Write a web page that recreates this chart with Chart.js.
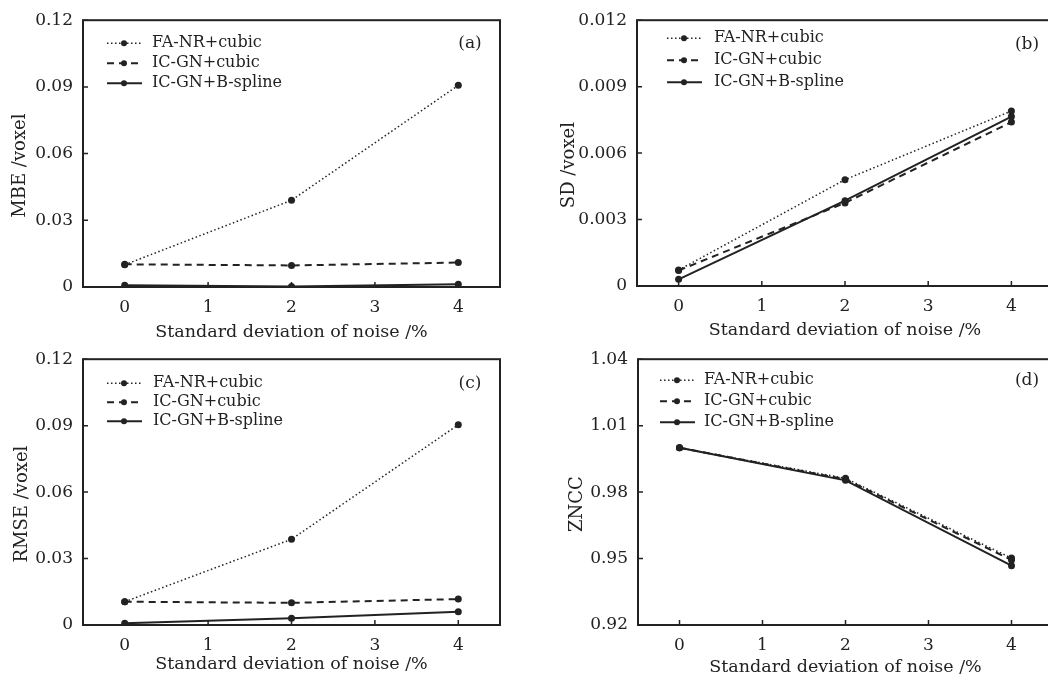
<!DOCTYPE html>
<html>
<head>
<meta charset="utf-8">
<script src="https://cdn.jsdelivr.net/npm/chart.js@4.4.1/dist/chart.umd.min.js"></script>
<style>
  html, body { margin: 0; padding: 0; background: #fff; overflow: hidden; width: 1048px; height: 678px; position: relative; }
  canvas { position: absolute; }
</style>
</head>
<body>
<canvas id="chartA" width="524" height="345" style="left:0;top:0"></canvas>
<canvas id="chartB" width="560" height="345" style="left:524px;top:0"></canvas>
<canvas id="chartC" width="524" height="339" style="left:0;top:339px"></canvas>
<canvas id="chartD" width="560" height="339" style="left:524px;top:339px"></canvas>
<script>
// noise levels (x) and x-axis ticks
const noiseLevels = [0, 2, 4];
const xTicks = [0, 1, 2, 3, 4];
const seriesNames = ["FA-NR+cubic", "IC-GN+cubic", "IC-GN+B-spline"];

// (a) MBE
const mbeFaNr = [0.0100, 0.0390, 0.0907];
const mbeIcCubic = [0.0102, 0.0097, 0.0110];
const mbeIcBspline = [0.0008, 0.0002, 0.0012];
const yTicksMbe = [0, 0.03, 0.06, 0.09, 0.12];
const yLabelsMbe = ["0", "0.03", "0.06", "0.09", "0.12"];

// (b) SD
const sdFaNr = [0.00072, 0.00480, 0.00790];
const sdIcCubic = [0.00070, 0.00375, 0.00740];
const sdIcBspline = [0.00030, 0.00385, 0.00765];
const yTicksSd = [0, 0.003, 0.006, 0.009, 0.012];
const yLabelsSd = ["0", "0.003", "0.006", "0.009", "0.012"];

// (c) RMSE
const rmseFaNr = [0.0105, 0.0387, 0.0904];
const rmseIcCubic = [0.0105, 0.0100, 0.0117];
const rmseIcBspline = [0.0008, 0.0030, 0.0060];
const yTicksRmse = [0, 0.03, 0.06, 0.09, 0.12];
const yLabelsRmse = ["0", "0.03", "0.06", "0.09", "0.12"];

// (d) ZNCC
const znccFaNr = [1.0000, 0.9862, 0.9502];
const znccIcCubic = [1.0000, 0.9858, 0.9494];
const znccIcBspline = [1.0000, 0.9853, 0.9468];
const yTicksZncc = [0.92, 0.95, 0.98, 1.01, 1.04];
const yLabelsZncc = ["0.92", "0.95", "0.98", "1.01", "1.04"];

const INK = "#222222";
const FONT = "'DejaVu Serif', 'Liberation Serif', serif";
const lineStyles = [
    { dash: [1.5, 2.5], width: 1.5 },
    { dash: [7, 5], width: 2 },
    { dash: [], width: 2 }
];

// box round the plot area with short inward ticks
const frame = {
    id: "frame",
    afterDraw(chart) {
        const { ctx, chartArea: a, scales } = chart;
        ctx.save();
        ctx.strokeStyle = INK;
        ctx.lineWidth = 2;
        ctx.strokeRect(a.left, a.top, a.right - a.left, a.bottom - a.top);
        ctx.lineWidth = 1.5;
        ctx.beginPath();
        xTicks.forEach(v => {
            const px = scales.x.getPixelForValue(v);
            ctx.moveTo(px, a.bottom); ctx.lineTo(px, a.bottom - 5);
        });
        scales.y.ticks.forEach(t => {
            const py = scales.y.getPixelForValue(t.value);
            ctx.moveTo(a.left, py); ctx.lineTo(a.left + 5, py);
        });
        ctx.stroke();
        ctx.restore();
    }
};

// legend drawn inside the plot, the panel tag and the y title
const insideLegend = {
    id: "insideLegend",
    afterDatasetsDraw(chart, args, opts) {
        const { ctx, chartArea: a } = chart;
        ctx.save();
        ctx.font = "16px " + FONT;
        ctx.textBaseline = "middle";
        chart.data.datasets.forEach((ds, i) => {
            const y = a.top + opts.top + i * opts.gap;
            const x0 = a.left + opts.left;
            ctx.strokeStyle = INK;
            ctx.lineWidth = ds.borderWidth;
            ctx.setLineDash(ds.borderDash);
            ctx.beginPath(); ctx.moveTo(x0, y); ctx.lineTo(x0 + 35, y); ctx.stroke();
            ctx.setLineDash([]);
            ctx.fillStyle = INK;
            ctx.beginPath(); ctx.arc(x0 + 17, y, 3, 0, Math.PI * 2); ctx.fill();
            ctx.textAlign = "left";
            ctx.fillText(ds.label, a.left + opts.textLeft, y);
        });
        ctx.font = "17px " + FONT;
        ctx.textAlign = "center";
        ctx.fillText(opts.tag, a.right - opts.tagRight, a.top + opts.tagTop);
        // y-axis title, sits a little below the middle of the plot
        ctx.font = "18px " + FONT;
        ctx.translate(opts.yTitleX, (a.top + a.bottom) / 2 + 12);
        ctx.rotate(-Math.PI / 2);
        ctx.fillText(opts.yTitle, 0, 0);
        ctx.restore();
    }
};

function makeChart(id, g, series, yTicks, yLabels, legendOpts) {
    const canvas = document.getElementById(id);
    const datasets = series.map((vals, i) => ({
        label: seriesNames[i],
        data: noiseLevels.map((x, k) => ({ x, y: vals[k] })),
        borderColor: INK,
        backgroundColor: INK,
        borderWidth: lineStyles[i].width,
        borderDash: lineStyles[i].dash,
        pointRadius: 3.5,
        pointBorderWidth: 0,
        tension: 0
    }));
    return new Chart(canvas, {
        type: "line",
        data: { datasets },
        plugins: [frame, insideLegend],
        options: {
            responsive: false,
            animation: false,
            layout: { padding: { top: g.top, right: canvas.width - g.right, left: 0, bottom: 0 } },
            plugins: {
                legend: { display: false },
                tooltip: { enabled: false },
                insideLegend: legendOpts
            },
            scales: {
                x: {
                    type: "linear",
                    min: -0.5, max: 4.5,
                    afterBuildTicks: s => { s.ticks = xTicks.map(v => ({ value: v })); },
                    afterFit: s => { s.height = canvas.height - g.bottom; },
                    grid: { display: false, drawTicks: false },
                    border: { display: false },
                    ticks: { color: INK, padding: 10, font: { family: FONT, size: 17 }, callback: v => String(v) },
                    title: { display: true, text: "Standard deviation of noise /%", color: INK,
                             font: { family: FONT, size: 17.5, lineHeight: 1.2 }, padding: { bottom: g.xTitlePad, top: 0 } }
                },
                y: {
                    min: yTicks[0], max: yTicks[yTicks.length - 1],
                    afterBuildTicks: s => { s.ticks = yTicks.map(v => ({ value: v })); },
                    afterFit: s => { s.width = g.left; },
                    grid: { display: false, drawTicks: false },
                    border: { display: false },
                    ticks: { color: INK, padding: 10, font: { family: FONT, size: 17 },
                             callback: (v, i) => yLabels[i] }
                }
            }
        }
    });
}

makeChart("chartA", { left: 83, top: 20, right: 500, bottom: 287, xTitlePad: 2 },
    [mbeFaNr, mbeIcCubic, mbeIcBspline], yTicksMbe, yLabelsMbe,
    { left: 24, textLeft: 69, top: 23, gap: 20, tag: "(a)", tagRight: 30, tagTop: 23, yTitle: "MBE /voxel", yTitleX: 20 });

makeChart("chartB", { left: 113, top: 19, right: 529, bottom: 286, xTitlePad: 4, yTitle: "SD /voxel" },
    [sdFaNr, sdIcCubic, sdIcBspline], yTicksSd, yLabelsSd,
    { left: 30, textLeft: 77, top: 18, gap: 22, tag: "(b)", tagRight: 26, tagTop: 24, yTitle: "SD /voxel", yTitleX: 45 });

makeChart("chartC", { left: 83, top: 19, right: 500, bottom: 286, xTitlePad: 3 },
    [rmseFaNr, rmseIcCubic, rmseIcBspline], yTicksRmse, yLabelsRmse,
    { left: 24, textLeft: 70, top: 24, gap: 19, tag: "(c)", tagRight: 30, tagTop: 24, yTitle: "RMSE /voxel", yTitleX: 22 });

makeChart("chartD", { left: 114, top: 19, right: 529, bottom: 286, xTitlePad: 0 },
    [znccFaNr, znccIcCubic, znccIcBspline], yTicksZncc, yLabelsZncc,
    { left: 22, textLeft: 66, top: 21, gap: 21, tag: "(d)", tagRight: 26, tagTop: 21, yTitle: "ZNCC", yTitleX: 53 });
</script>
</body>
</html>
